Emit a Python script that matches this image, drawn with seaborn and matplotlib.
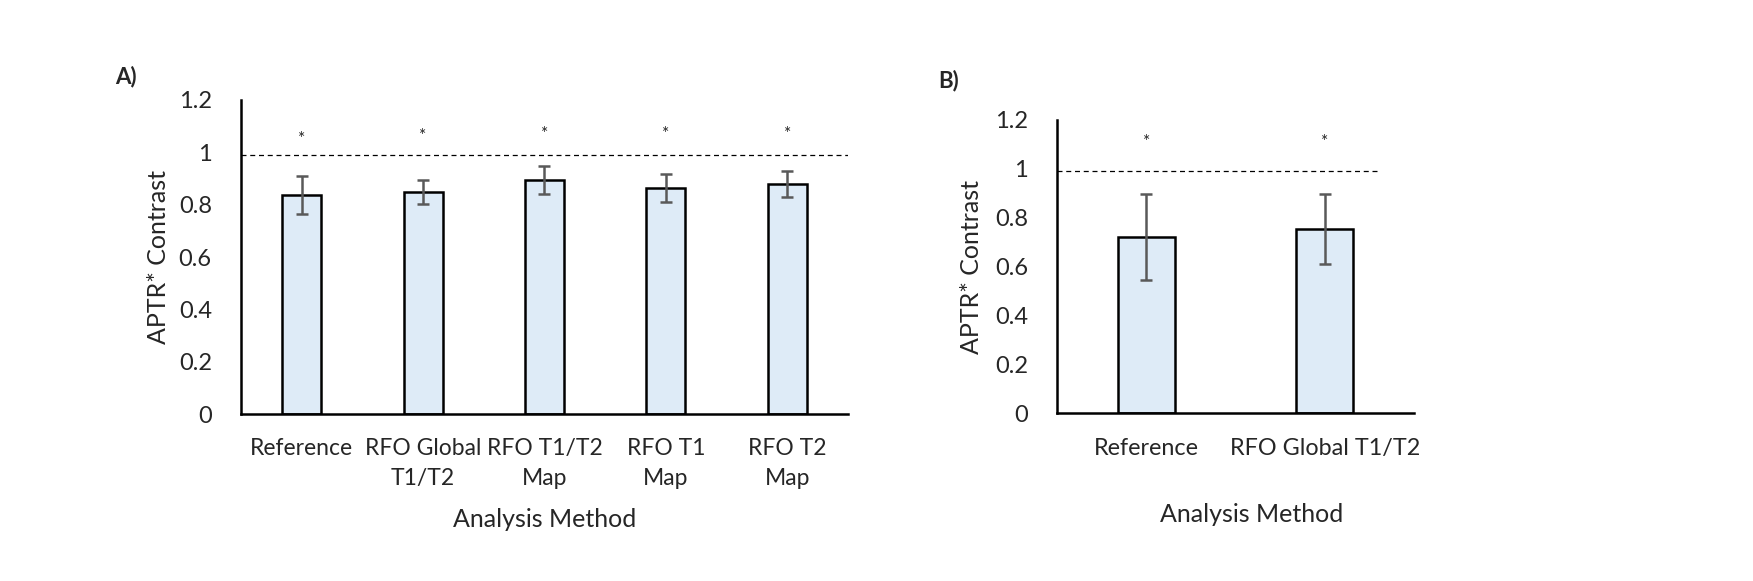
import pandas as pd
import numpy as np
import matplotlib
matplotlib.use('Agg')
import matplotlib.pyplot as plt
import seaborn as sns

# panel A values
methods_a = ['Reference', 'RFO Global\nT1/T2', 'RFO T1/T2\nMap', 'RFO T1\nMap', 'RFO T2\nMap']
mean_a = [0.838, 0.849, 0.894, 0.864, 0.879]
err_a = [0.073, 0.047, 0.055, 0.053, 0.050]
star_a = [1.065, 1.077, 1.085, 1.085, 1.085]

# panel B values
methods_b = ['Reference', 'RFO Global T1/T2']
mean_b = [0.722, 0.755]
err_b = [0.176, 0.143]
star_b = [1.127, 1.127]

ref_line = 0.99

sns.set_style('white')
plt.rcParams['font.family'] = ['Lato', 'DejaVu Sans']

df_a = pd.DataFrame({'method': methods_a, 'contrast': mean_a, 'err': err_a})
df_b = pd.DataFrame({'method': methods_b, 'contrast': mean_b, 'err': err_b})

fig = plt.figure(figsize=(17.53, 5.81), dpi=100)
ax_a = fig.add_axes([0.1375, 0.2874, 0.3462, 0.5405])
ax_b = fig.add_axes([0.603, 0.2883, 0.2037, 0.5052])


def draw_panel(ax, df, stars, line_end, xtick_fs):
    sns.barplot(data=df, x='method', y='contrast', ax=ax, color='#DEEBF7',
                edgecolor='black', linewidth=1.8, width=0.32, errorbar=None,
                saturation=1)
    xs = np.arange(len(df))
    ax.errorbar(xs, df['contrast'], yerr=df['err'], fmt='none', ecolor='#595959',
                elinewidth=1.8, capsize=4.5, capthick=1.8)
    for x, s in zip(xs, stars):
        ax.annotate('*', (x, s), xytext=(0, -3), textcoords='offset points',
                    ha='center', va='center', fontsize=12.5)
    ax.set_xlim(-0.5, len(df) - 0.5)
    ax.hlines(ref_line, -0.5, line_end, colors='black', linestyles=(0, (4, 3)),
              linewidth=0.9)
    ax.set_ylim(0, 1.2)
    ax.set_yticks([0, 0.2, 0.4, 0.6, 0.8, 1.0, 1.2])
    ax.set_yticklabels(['0', '0.2', '0.4', '0.6', '0.8', '1', '1.2'])
    ax.tick_params(axis='y', length=0, pad=21, labelsize=17)
    ax.tick_params(axis='x', length=0, pad=17, labelsize=xtick_fs)
    for lab in ax.get_xticklabels():
        lab.set_linespacing(1.55)
    for side in ['top', 'right']:
        ax.spines[side].set_visible(False)
    for side in ['left', 'bottom']:
        ax.spines[side].set_linewidth(1.8)
        ax.spines[side].set_color('black')
    ax.set_ylabel('APTR* Contrast', fontsize=18)
    ax.set_xlabel('Analysis Method', fontsize=18)


draw_panel(ax_a, df_a, star_a, 4.5, 16.5)
draw_panel(ax_b, df_b, star_b, 1.31, 16.8)

ax_a.yaxis.set_label_coords(-0.117, 0.5)
ax_a.xaxis.set_label_coords(0.5, -0.30)
ax_b.yaxis.set_label_coords(-0.207, 0.5)
ax_b.xaxis.set_label_coords(0.545, -0.305)
ax_b.tick_params(axis='x', pad=18)

fig.text(126 / 1753, 1 - 77 / 581, 'A)', fontsize=16, fontweight='bold', ha='center', va='center')
fig.text(949 / 1753, 1 - 81 / 581, 'B)', fontsize=16, fontweight='bold', ha='center', va='center')

fig.savefig('out.png', dpi=100, facecolor='white')
